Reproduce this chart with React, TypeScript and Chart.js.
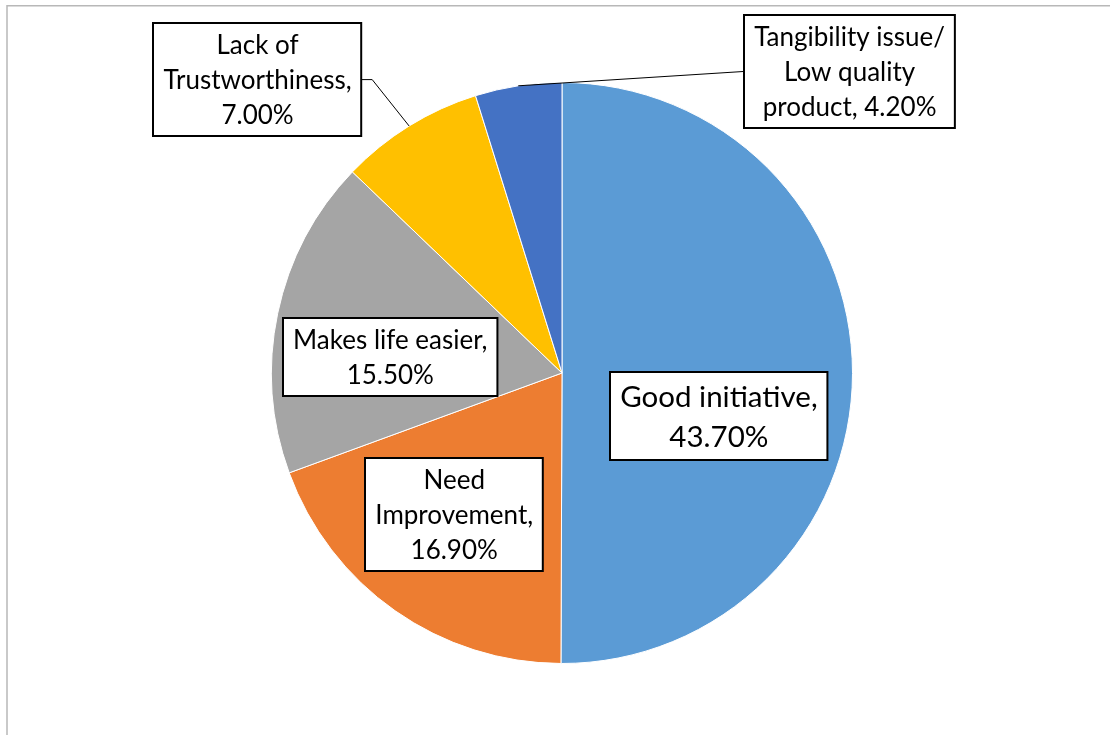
import React, { useEffect, useRef } from "react";
import { Chart, registerables } from "chart.js";

Chart.register(...registerables);

// ---- data ----
const categories = [
  "Good initiative",
  "Need Improvement",
  "Makes life easier",
  "Lack of Trustworthiness",
  "Tangibility issue/ Low quality product",
];
const percentages = [43.7, 16.9, 15.5, 7.0, 4.2];
const sliceColors = ["#5B9BD5", "#ED7D31", "#A5A5A5", "#FFC000", "#4472C4"];
// label text lines; {v} is replaced by the formatted value
const labelLines = [
  ["Good initiative,", "{v}"],
  ["Need", "Improvement,", "{v}"],
  ["Makes life easier,", "{v}"],
  ["Lack of", "Trustworthiness,", "{v}"],
  ["Tangibility issue/", "Low quality", "product, {v}"],
];

// ---- layout (label box centre offsets in units of the pie radius) ----
const labelLayout = [
  { dx: 0.54, dy: 0.148, size: 29.5, lineH: 40, leader: false, elbow: 0 },
  { dx: -0.371, dy: 0.488, size: 26, lineH: 35, leader: false, elbow: 0 },
  { dx: -0.591, dy: -0.055, size: 26, lineH: 35, leader: false, elbow: 0 },
  { dx: -1.048, dy: -1.01, size: 26, lineH: 35, leader: true, elbow: 11 },
  { dx: 0.99, dy: -1.038, size: 26, lineH: 35, leader: true, elbow: 0 },
];
const FONT = "Lato, 'Open Sans', sans-serif";

const labelPlugin = {
  id: "boxLabels",
  beforeDraw(chart: any) {
    const ctx = chart.ctx;
    ctx.save();
    ctx.strokeStyle = "#b8b8b8";
    ctx.lineWidth = 1.5;
    ctx.beginPath();
    ctx.moveTo(7, chart.height + 5);
    ctx.lineTo(7, 5.75);
    ctx.lineTo(chart.width + 5, 5.75);
    ctx.stroke();
    ctx.restore();
  },
  afterDraw(chart: any) {
    const ctx = chart.ctx;
    const meta = chart.getDatasetMeta(0);
    meta.data.forEach((arc: any, i: number) => {
      const { x, y, outerRadius, startAngle, endAngle } = arc.getProps(
        ["x", "y", "outerRadius", "startAngle", "endAngle"],
        true
      );
      const lay = labelLayout[i];
      const val = percentages[i].toFixed(2) + "%";
      const lines = labelLines[i].map((l) => l.replace("{v}", val));
      ctx.save();
      ctx.font = `${lay.size}px ${FONT}`;
      const tw = Math.max(...lines.map((l) => ctx.measureText(l).width));
      const w = tw + 20;
      const h = lines.length * lay.lineH + 8;
      const cx = x + lay.dx * outerRadius;
      const cy = y + lay.dy * outerRadius;
      const left = Math.round(cx - w / 2);
      const top = Math.round(cy - h / 2);

      if (lay.leader) {
        const mid = (startAngle + endAngle) / 2;
        const ax = x + Math.cos(mid) * outerRadius;
        const ay = y + Math.sin(mid) * outerRadius;
        const sideX = cx < ax ? left + w : left;
        const dir = cx < ax ? 1 : -1;
        ctx.strokeStyle = "#000";
        ctx.lineWidth = 1;
        ctx.beginPath();
        ctx.moveTo(ax, ay);
        ctx.lineTo(sideX + dir * lay.elbow, cy);
        ctx.lineTo(sideX, cy);
        ctx.stroke();
      }

      ctx.fillStyle = "#fff";
      ctx.fillRect(left, top, w, h);
      ctx.strokeStyle = "#000";
      ctx.lineWidth = 2;
      ctx.strokeRect(left, top, w, h);

      ctx.fillStyle = "#000";
      ctx.textAlign = "center";
      ctx.textBaseline = "middle";
      const startY = cy - ((lines.length - 1) * lay.lineH) / 2;
      lines.forEach((l, k) => {
        ctx.fillText(l, cx, startY + k * lay.lineH + 1);
      });
      ctx.restore();
    });
  },
};

export default function App() {
  const ref = useRef<HTMLCanvasElement | null>(null);
  useEffect(() => {
    document.body.style.margin = "0";
    const canvas = ref.current;
    if (!canvas) return;
    const chart = new Chart(canvas, {
      type: "pie",
      data: {
        labels: categories,
        datasets: [
          {
            data: percentages,
            backgroundColor: sliceColors,
            borderColor: "#ffffff",
            borderWidth: 1,
          },
        ],
      },
      options: {
        animation: false,
        responsive: false,
        maintainAspectRatio: false,
        layout: { padding: { left: 271, right: 257, top: 82, bottom: 71 } },
        plugins: {
          legend: { display: false },
          tooltip: { enabled: false },
          title: { display: false },
        },
      },
      plugins: [labelPlugin],
    });
    return () => chart.destroy();
  }, []);
  return (
    <div style={{ width: 1110, height: 735, background: "#fff" }}>
      <canvas ref={ref} width={1110} height={735} style={{ display: "block" }} />
    </div>
  );
}
